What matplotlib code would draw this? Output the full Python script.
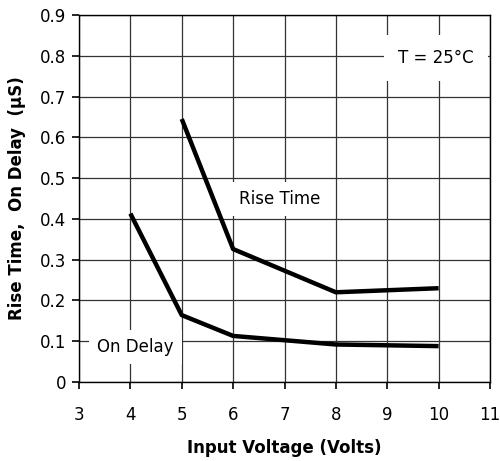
import matplotlib
matplotlib.use("Agg")
import matplotlib.pyplot as plt

# Data
voltage_rise = [5, 6, 8, 10]
rise_time = [0.645, 0.326, 0.220, 0.230]

voltage_delay = [4, 5, 6, 8, 10]
on_delay = [0.413, 0.164, 0.113, 0.092, 0.088]

x_ticks = [3, 4, 5, 6, 7, 8, 9, 10, 11]
y_ticks = [0, 0.1, 0.2, 0.3, 0.4, 0.5, 0.6, 0.7, 0.8, 0.9]
y_labels = ["0", "0.1", "0.2", "0.3", "0.4", "0.5", "0.6", "0.7", "0.8", "0.9"]

plt.rcParams['font.family'] = ['DejaVu Sans']

fig = plt.figure(figsize=(5, 4.61), dpi=100)
ax = fig.add_axes([79 / 500, 1 - 382 / 461, 411 / 500, 367 / 461])

ax.plot(voltage_rise, rise_time, color='black', linewidth=3.2, solid_capstyle='butt', zorder=3)
ax.plot(voltage_delay, on_delay, color='black', linewidth=3.2, solid_capstyle='butt', zorder=3)

ax.set_xlim(3, 11)
ax.set_ylim(0, 0.9)
ax.set_xticks(x_ticks)
ax.set_yticks(y_ticks)
ax.set_yticklabels(y_labels)
ax.grid(True, color='#333333', linewidth=0.9)
ax.set_axisbelow(True)
for s in ax.spines.values():
    s.set_linewidth(1.0)
ax.tick_params(axis='both', labelsize=12, length=5, width=1.2, direction='out', pad=4)
ax.tick_params(axis='x', pad=12)

ax.set_xlabel("Input Voltage (Volts)", fontsize=12, fontweight='bold', labelpad=11)
ax.set_ylabel("Rise Time,  On Delay  (\u00b5S)", fontsize=12, fontweight='bold', labelpad=10)

box = dict(facecolor='white', edgecolor='none', pad=6)
ax.text(6.12, 0.449, "Rise Time", fontsize=12, va='center', ha='left', bbox=box, zorder=2)
ax.text(3.35, 0.086, "On Delay", fontsize=12, va='center', ha='left', bbox=box, zorder=2)
ax.text(9.95, 0.795, "T = 25\u00b0C", fontsize=12, va='center', ha='center',
        bbox=dict(facecolor='white', edgecolor='none', pad=10), zorder=2)

fig.savefig("out.png", dpi=100)
